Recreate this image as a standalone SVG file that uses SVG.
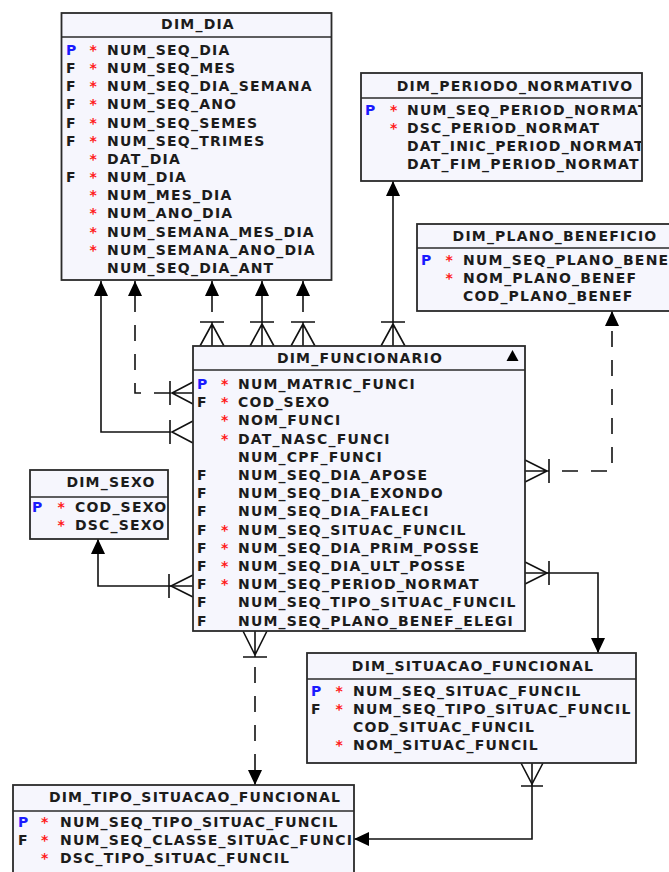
<svg xmlns="http://www.w3.org/2000/svg" width="669" height="872" viewBox="0 0 669 872">
<style>
.bg{fill:#ffffff}
.box{fill:#f6f6fd;stroke:#2a2a2a;stroke-width:1.8}
.hl{stroke:#2a2a2a;stroke-width:1.6;fill:none}
.t{font-family:"DejaVu Sans","Liberation Sans",sans-serif;font-weight:bold;font-size:14px;letter-spacing:1.2px;fill:#1c1c1c}
.ti{text-anchor:middle}
.p{fill:#1a1aff}
.r{fill:#ff1a1a}
.c{stroke:#111;stroke-width:1.6;fill:none}
.d{stroke-dasharray:16 13}
</style>
<defs>
<marker id="ah" markerUnits="userSpaceOnUse" markerWidth="16" markerHeight="15" refX="15" refY="7" orient="auto" viewBox="0 0 16 15">
<path d="M0,0 L15,7 L0,14 z" fill="#000"/>
</marker>
<clipPath id="cpPer"><rect x="361" y="73" width="280" height="108"/></clipPath>
<clipPath id="cpTipo"><rect x="13" y="785" width="340" height="90"/></clipPath>
</defs>
<rect class="bg" x="0" y="0" width="669" height="872"/>

<g id="connectors">
<path class="c" d="M170,432 H101 V281" marker-end="url(#ah)"/>
<path class="c" d="M170,420 V444 M193,421 L172,432 L193,443"/>
<path class="c d" d="M170,393 H135 V281" marker-end="url(#ah)"/>
<path class="c" d="M170,381 V405 M193,382 L172,393 L193,404 M172,393 H193"/>
<path class="c" d="M212,312 V281" marker-end="url(#ah)"/>
<path class="c" d="M200,322 H224 M200,346 L212,324 L224,346 M212,322 V346"/>
<path class="c" d="M262,322 V281" marker-end="url(#ah)"/>
<path class="c" d="M250,322 H274 M250,346 L262,324 L274,346 M262,322 V346"/>
<path class="c" d="M303,312 V281" marker-end="url(#ah)"/>
<path class="c" d="M291,322 H315 M291,346 L303,324 L315,346 M303,322 V346"/>
<path class="c" d="M393,322 V181" marker-end="url(#ah)"/>
<path class="c" d="M381,322 H405 M381,346 L393,324 L405,346 M393,322 V346"/>
<path class="c d" style="stroke-dashoffset:16" d="M549,471 H612 V311" marker-end="url(#ah)"/>
<path class="c" d="M549,459 V483 M525,460 L547,471 L525,482 M525,471 H549"/>
<path class="c" d="M525,573 H598 V653" marker-end="url(#ah)"/>
<path class="c" d="M549,561 V585 M525,562 L547,573 L525,584"/>
<path class="c" d="M193,586 H98 V539" marker-end="url(#ah)"/>
<path class="c" d="M169,574 V598 M193,575 L171,586 L193,597"/>
<path class="c d" style="stroke-dashoffset:19" d="M255,657 V785" marker-end="url(#ah)"/>
<path class="c" d="M243,657 H267 M243,631 L255,655 L267,631 M255,631 V657"/>
<path class="c" d="M532,763 V839 H354" marker-end="url(#ah)"/>
<path class="c" d="M521,786 H543 M521,763 L532,784 L543,763"/>
</g>

<g id="DIM_DIA">
<rect class="box" x="61.5" y="13" width="270" height="267"/>
<line class="hl" x1="61.5" y1="37" x2="331.5" y2="37"/>
<text class="t ti" x="198" y="29">DIM_DIA</text>
<text class="t p" x="66" y="55">P</text><text class="t r" x="89.5" y="55">*</text><text class="t" x="107" y="55">NUM_SEQ_DIA</text>
<text class="t" x="66" y="73">F</text><text class="t r" x="89.5" y="73">*</text><text class="t" x="107" y="73">NUM_SEQ_MES</text>
<text class="t" x="66" y="91">F</text><text class="t r" x="89.5" y="91">*</text><text class="t" x="107" y="91">NUM_SEQ_DIA_SEMANA</text>
<text class="t" x="66" y="109">F</text><text class="t r" x="89.5" y="109">*</text><text class="t" x="107" y="109">NUM_SEQ_ANO</text>
<text class="t" x="66" y="128">F</text><text class="t r" x="89.5" y="128">*</text><text class="t" x="107" y="128">NUM_SEQ_SEMES</text>
<text class="t" x="66" y="146">F</text><text class="t r" x="89.5" y="146">*</text><text class="t" x="107" y="146">NUM_SEQ_TRIMES</text>
<text class="t r" x="89.5" y="164">*</text><text class="t" x="107" y="164">DAT_DIA</text>
<text class="t" x="66" y="182">F</text><text class="t r" x="89.5" y="182">*</text><text class="t" x="107" y="182">NUM_DIA</text>
<text class="t r" x="89.5" y="200">*</text><text class="t" x="107" y="200">NUM_MES_DIA</text>
<text class="t r" x="89.5" y="218">*</text><text class="t" x="107" y="218">NUM_ANO_DIA</text>
<text class="t r" x="89.5" y="237">*</text><text class="t" x="107" y="237">NUM_SEMANA_MES_DIA</text>
<text class="t r" x="89.5" y="255">*</text><text class="t" x="107" y="255">NUM_SEMANA_ANO_DIA</text>
<text class="t" x="107" y="273">NUM_SEQ_DIA_ANT</text>
</g>

<g id="DIM_PERIODO_NORMATIVO">
<rect class="box" x="361" y="73" width="281" height="108"/>
<line class="hl" x1="361" y1="98" x2="642" y2="98"/>
<text class="t ti" x="515" y="91">DIM_PERIODO_NORMATIVO</text>
<g clip-path="url(#cpPer)">
<text class="t p" x="365" y="115">P</text><text class="t r" x="390" y="115">*</text><text class="t" x="407" y="115">NUM_SEQ_PERIOD_NORMAT</text>
<text class="t r" x="390" y="133">*</text><text class="t" x="407" y="133">DSC_PERIOD_NORMAT</text>
<text class="t" x="407" y="151">DAT_INIC_PERIOD_NORMAT</text>
<text class="t" x="407" y="169">DAT_FIM_PERIOD_NORMAT</text>
</g>
</g>

<g id="DIM_PLANO_BENEFICIO">
<rect class="box" x="417" y="224" width="270" height="87"/>
<line class="hl" x1="417" y1="248" x2="687" y2="248"/>
<text class="t ti" x="555" y="241">DIM_PLANO_BENEFICIO</text>
<text class="t p" x="421" y="265">P</text><text class="t r" x="445.5" y="265">*</text><text class="t" x="463" y="265">NUM_SEQ_PLANO_BENEF</text>
<text class="t r" x="445.5" y="283">*</text><text class="t" x="463" y="283">NOM_PLANO_BENEF</text>
<text class="t" x="463" y="301">COD_PLANO_BENEF</text>
</g>

<g id="DIM_FUNCIONARIO">
<rect class="box" x="193" y="346" width="332" height="285"/>
<line class="hl" x1="193" y1="370" x2="525" y2="370"/>
<text class="t ti" x="360" y="363">DIM_FUNCIONARIO</text>
<polygon points="506.5,361 512.5,350 518.5,361" fill="#000"/>
<text class="t p" x="197" y="389">P</text><text class="t r" x="221" y="389">*</text><text class="t" x="238" y="389">NUM_MATRIC_FUNCI</text>
<text class="t" x="197" y="407">F</text><text class="t r" x="221" y="407">*</text><text class="t" x="238" y="407">COD_SEXO</text>
<text class="t r" x="221" y="425">*</text><text class="t" x="238" y="425">NOM_FUNCI</text>
<text class="t r" x="221" y="444">*</text><text class="t" x="238" y="444">DAT_NASC_FUNCI</text>
<text class="t" x="238" y="462">NUM_CPF_FUNCI</text>
<text class="t" x="197" y="480">F</text><text class="t" x="238" y="480">NUM_SEQ_DIA_APOSE</text>
<text class="t" x="197" y="498">F</text><text class="t" x="238" y="498">NUM_SEQ_DIA_EXONDO</text>
<text class="t" x="197" y="516">F</text><text class="t" x="238" y="516">NUM_SEQ_DIA_FALECI</text>
<text class="t" x="197" y="535">F</text><text class="t r" x="221" y="535">*</text><text class="t" x="238" y="535">NUM_SEQ_SITUAC_FUNCIL</text>
<text class="t" x="197" y="553">F</text><text class="t r" x="221" y="553">*</text><text class="t" x="238" y="553">NUM_SEQ_DIA_PRIM_POSSE</text>
<text class="t" x="197" y="571">F</text><text class="t r" x="221" y="571">*</text><text class="t" x="238" y="571">NUM_SEQ_DIA_ULT_POSSE</text>
<text class="t" x="197" y="589">F</text><text class="t r" x="221" y="589">*</text><text class="t" x="238" y="589">NUM_SEQ_PERIOD_NORMAT</text>
<text class="t" x="197" y="607">F</text><text class="t" x="238" y="607">NUM_SEQ_TIPO_SITUAC_FUNCIL</text>
<text class="t" x="197" y="626">F</text><text class="t" x="238" y="626">NUM_SEQ_PLANO_BENEF_ELEGI</text>
</g>

<g id="DIM_SEXO">
<rect class="box" x="30" y="470" width="138" height="69"/>
<line class="hl" x1="30" y1="497" x2="168" y2="497"/>
<text class="t ti" x="111" y="487">DIM_SEXO</text>
<text class="t p" x="32" y="512">P</text><text class="t r" x="57.5" y="512">*</text><text class="t" x="75" y="512">COD_SEXO</text>
<text class="t r" x="57.5" y="530">*</text><text class="t" x="75" y="530">DSC_SEXO</text>
</g>

<g id="DIM_SITUACAO_FUNCIONAL">
<rect class="box" x="307" y="653" width="329" height="110"/>
<line class="hl" x1="307" y1="679" x2="636" y2="679"/>
<text class="t ti" x="473" y="671">DIM_SITUACAO_FUNCIONAL</text>
<text class="t p" x="311" y="696">P</text><text class="t r" x="335.5" y="696">*</text><text class="t" x="353" y="696">NUM_SEQ_SITUAC_FUNCIL</text>
<text class="t" x="311" y="714">F</text><text class="t r" x="335.5" y="714">*</text><text class="t" x="353" y="714">NUM_SEQ_TIPO_SITUAC_FUNCIL</text>
<text class="t" x="353" y="732">COD_SITUAC_FUNCIL</text>
<text class="t r" x="335.5" y="750">*</text><text class="t" x="353" y="750">NOM_SITUAC_FUNCIL</text>
</g>

<g id="DIM_TIPO_SITUACAO_FUNCIONAL">
<rect class="box" x="13" y="785" width="341" height="100"/>
<line class="hl" x1="13" y1="811" x2="354" y2="811"/>
<text class="t ti" x="195" y="802">DIM_TIPO_SITUACAO_FUNCIONAL</text>
<g clip-path="url(#cpTipo)">
<text class="t p" x="18" y="827">P</text><text class="t r" x="41" y="827">*</text><text class="t" x="60" y="827">NUM_SEQ_TIPO_SITUAC_FUNCIL</text>
<text class="t" x="18" y="845">F</text><text class="t r" x="41" y="845">*</text><text class="t" x="60" y="845">NUM_SEQ_CLASSE_SITUAC_FUNCIL</text>
<text class="t r" x="41" y="863">*</text><text class="t" x="60" y="863">DSC_TIPO_SITUAC_FUNCIL</text>
</g>
</g>
</svg>
